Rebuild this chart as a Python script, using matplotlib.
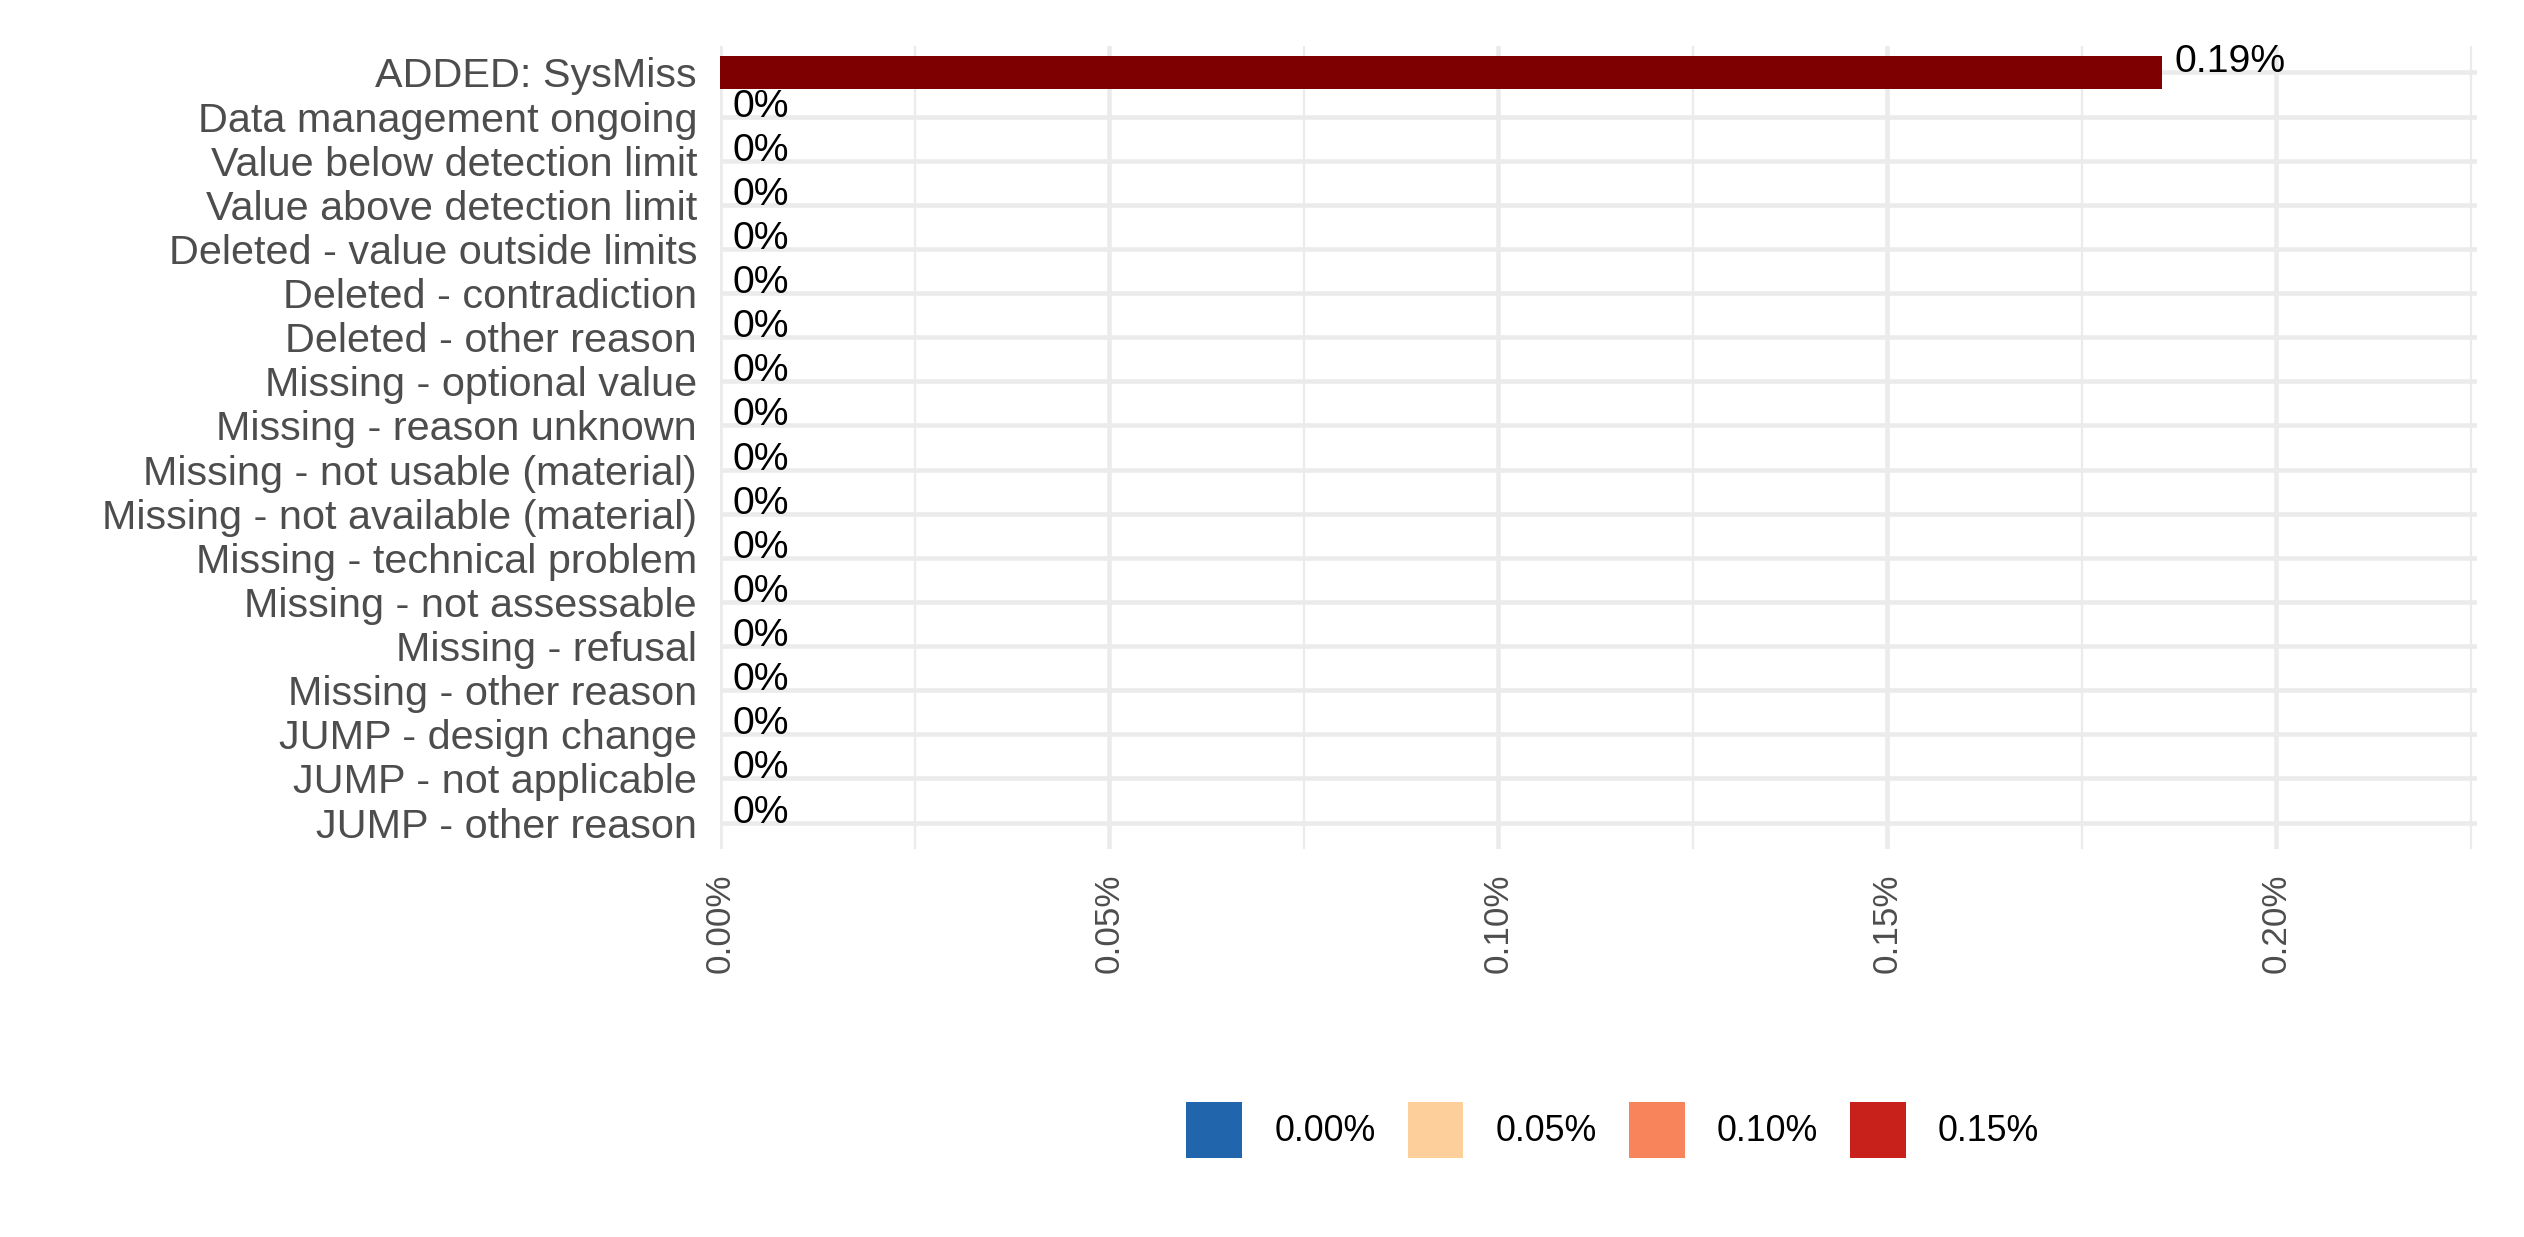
import matplotlib
matplotlib.use("Agg")
import matplotlib.pyplot as plt
from matplotlib.patches import Patch
from matplotlib.ticker import FixedLocator

plt.rcParams['font.family'] = ['Liberation Sans', 'DejaVu Sans']

categories = [
    "ADDED: SysMiss",
    "Data management ongoing",
    "Value below detection limit",
    "Value above detection limit",
    "Deleted - value outside limits",
    "Deleted - contradiction",
    "Deleted - other reason",
    "Missing - optional value",
    "Missing - reason unknown",
    "Missing - not usable (material)",
    "Missing - not available (material)",
    "Missing - technical problem",
    "Missing - not assessable",
    "Missing - refusal",
    "Missing - other reason",
    "JUMP - design change",
    "JUMP - not applicable",
    "JUMP - other reason",
]
values = [0.1853, 0, 0, 0, 0, 0, 0, 0, 0, 0, 0, 0, 0, 0, 0, 0, 0, 0]
value_labels = ["0.19%"] + ["0%"] * 17
x_ticks = [0.00, 0.05, 0.10, 0.15, 0.20]
x_tick_labels = ["0.00%", "0.05%", "0.10%", "0.15%", "0.20%"]
legend_labels = ["0.00%", "0.05%", "0.10%", "0.15%"]
legend_colors = ["#2166AC", "#FDD09B", "#F7845A", "#C8201A"]
bar_colors = ["#7F0000"] + ["#2166AC"] * 17

W, H = 2524, 1237
dpi = 300
fig = plt.figure(figsize=(W / dpi, H / dpi), dpi=dpi)
left, right, top, bottom = 720, 2477, 46, 849
ax = fig.add_axes([left / W, 1 - bottom / H, (right - left) / W, (bottom - top) / H])

n = len(categories)
ypos = [n - 1 - i for i in range(n)]

grid_c = "#EBEBEB"
ax.set_xlim(0, 0.2258)
ax.set_ylim(-0.6, n - 1 + 0.6)
ax.xaxis.set_major_locator(FixedLocator(x_ticks))
ax.xaxis.set_minor_locator(FixedLocator([0.025, 0.075, 0.125, 0.175, 0.225]))
ax.set_yticks(ypos)
ax.set_yticklabels(categories)
ax.set_xticklabels(x_tick_labels)
ax.grid(which="major", axis="both", color=grid_c, linewidth=1.1, zorder=0)
ax.grid(which="minor", axis="x", color=grid_c, linewidth=0.55, zorder=0)
ax.set_axisbelow(True)
for s in ax.spines.values():
    s.set_visible(False)
ax.tick_params(axis="both", which="both", length=0)
ax.tick_params(axis="y", labelsize=9.95, labelcolor="#4D4D4D", pad=5.5)
ax.tick_params(axis="x", labelsize=8.4, labelcolor="#4D4D4D", pad=5.8,
               labelrotation=90)

ax.barh(ypos, values, height=0.75, color=bar_colors, zorder=2)

for y, v, lab in zip(ypos, values, value_labels):
    ax.annotate(lab, xy=(v, y), xytext=(3.0, 0), textcoords="offset points",
                ha="left", va="baseline", fontsize=9.4, color="black", zorder=3)

handles = [Patch(facecolor=c, edgecolor="none") for c in legend_colors]
fig.legend(handles, legend_labels, loc="center", bbox_to_anchor=(0.639, 0.0865),
           ncol=4, frameon=False, fontsize=8.6, handlelength=1.55,
           handleheight=2.0, handletextpad=0.9, columnspacing=0.9)

fig.savefig("out.png", dpi=dpi, facecolor="white")
